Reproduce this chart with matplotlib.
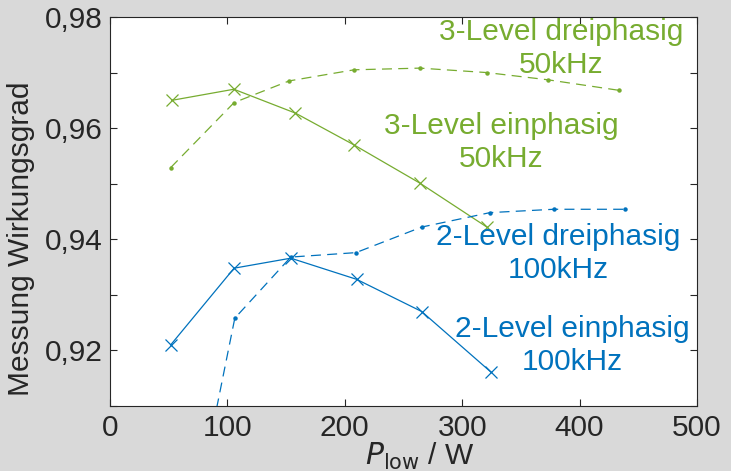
import numpy as np
import matplotlib.pyplot as plt

p_3l_ein = [52.6, 105.5, 158, 207.7, 264, 321]
eta_3l_ein = [0.9650, 0.9670, 0.9627, 0.9570, 0.9501, 0.9422]

p_3l_drei = [51.7, 105.7, 152.6, 208, 264, 321, 373, 433.7]
eta_3l_drei = [0.9529, 0.9646, 0.9685, 0.9705, 0.9708, 0.9700, 0.9687, 0.9668]

p_2l_ein = [51.7, 105.7, 154, 210, 265.5, 324.5]
eta_2l_ein = [0.9210, 0.9348, 0.9366, 0.9328, 0.9270, 0.9161]

p_2l_drei = [52, 106.3, 154, 209.5, 265.5, 323.7, 378, 438.8]
eta_2l_drei = [0.869, 0.9258, 0.9368, 0.9376, 0.9422, 0.9448, 0.9454, 0.9454]

GREEN = '#77AC30'
BLUE = '#0072BD'
TXT = '#262626'
FS = 21.5

plt.rcParams['font.family'] = 'Liberation Sans'

fig = plt.figure(figsize=(7.31, 4.71), dpi=100, facecolor='#D9D9D9')
ax = fig.add_axes([110 / 731, 1 - 406 / 471, 587 / 731, 389 / 471])

ax.plot(p_3l_ein, eta_3l_ein, '-', color=GREEN, lw=0.9, marker='x', ms=9, mew=0.9)
ax.plot(p_3l_drei, eta_3l_drei, '--', color=GREEN, lw=0.9, marker='o', ms=2.2,
        dashes=(8, 5))
ax.plot(p_2l_ein, eta_2l_ein, '-', color=BLUE, lw=0.9, marker='x', ms=9, mew=0.9)
ax.plot(p_2l_drei, eta_2l_drei, '--', color=BLUE, lw=0.9, marker='o', ms=2.2,
        dashes=(8, 5))

ax.set_xlim(0, 500)
ax.set_ylim(0.91, 0.98)
ax.set_xticks([0, 100, 200, 300, 400, 500])
yt = np.round(np.arange(0.91, 0.9801, 0.01), 2)
ax.set_yticks(yt)
ax.set_yticklabels([('%.2f' % v).replace('.', ',') if round(v * 100) % 2 == 0 else ''
                    for v in yt])

ax.tick_params(direction='in', top=True, right=True, length=5, width=0.8,
               colors=TXT, labelsize=FS)
ax.tick_params(axis='x', pad=6)
ax.tick_params(axis='y', pad=5)
for s in ax.spines.values():
    s.set_color(TXT)
    s.set_linewidth(0.8)

ax.set_xlabel(r'$P_{\mathrm{low}}$ / W', fontsize=FS, color=TXT)
ax.xaxis.set_label_coords(0.528, -0.089)
ax.set_ylabel('Messung Wirkungsgrad', fontsize=FS, color=TXT)
ax.yaxis.set_label_coords(-0.128, 0.43)

ax.text(384, 0.9743, '3-Level dreiphasig\n50kHz', color=GREEN, fontsize=FS,
        ha='center', va='center', linespacing=1.25)
ax.text(333, 0.9574, '3-Level einphasig\n50kHz', color=GREEN, fontsize=FS,
        ha='center', va='center', linespacing=1.25)
ax.text(381.7, 0.9374, '2-Level dreiphasig\n100kHz', color=BLUE, fontsize=FS,
        ha='center', va='center', linespacing=1.25)
ax.text(393.6, 0.9209, '2-Level einphasig\n100kHz', color=BLUE, fontsize=FS,
        ha='center', va='center', linespacing=1.25)

fig.savefig('out.png', dpi=100, facecolor=fig.get_facecolor())
